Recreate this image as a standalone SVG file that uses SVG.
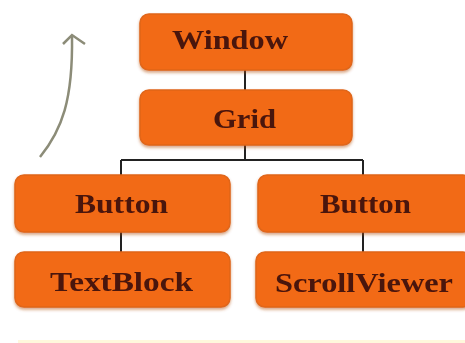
<svg xmlns="http://www.w3.org/2000/svg" width="465" height="343" viewBox="0 0 465 343">
<defs>
<style>
.box{fill:#F26A12;stroke:#E0661A;stroke-width:1.5}
.lbl{font-family:"Liberation Serif","Times New Roman",serif;font-weight:bold;font-size:27px;fill:#4A1208}
.ln{stroke:#222;stroke-width:2;fill:none}
</style>
<filter id="sh" x="-10%" y="-20%" width="120%" height="150%">
<feGaussianBlur in="SourceAlpha" stdDeviation="1.5"/>
<feOffset dx="0" dy="2" result="b"/>
<feFlood flood-color="#B04A10" flood-opacity="0.5"/>
<feComposite in2="b" operator="in"/>
<feMerge><feMergeNode/><feMergeNode in="SourceGraphic"/></feMerge>
</filter>
</defs>
<rect width="465" height="343" fill="#FFFFFF"/>
<rect x="18" y="340" width="447" height="3" fill="#FFF8DC"/>
<g id="connectors">
<path class="ln" d="M245 70V90"/>
<path class="ln" d="M245 145V160"/>
<path class="ln" d="M121 160H363"/>
<path class="ln" d="M121 160V175"/>
<path class="ln" d="M363 160V175"/>
<path class="ln" d="M121 232V252"/>
<path class="ln" d="M363 232V252"/>
<path d="M40 157C62 130 73 100 72 36" stroke="#8C8C78" stroke-width="2.5" fill="none"/>
<path d="M63 44L72 35L85 44" stroke="#8C8C78" stroke-width="2.5" fill="none"/>
</g>
<g id="window" filter="url(#sh)">
<rect class="box" x="140" y="14" width="212" height="56" rx="9"/>
<text class="lbl" x="172" y="49" textLength="116" lengthAdjust="spacingAndGlyphs">Window</text>
</g>
<g id="grid" filter="url(#sh)">
<rect class="box" x="140" y="90" width="212" height="55" rx="9"/>
<text class="lbl" x="213" y="128" textLength="63" lengthAdjust="spacingAndGlyphs">Grid</text>
</g>
<g id="button1" filter="url(#sh)">
<rect class="box" x="15" y="175" width="215" height="57" rx="9"/>
<text class="lbl" x="75" y="213" textLength="93" lengthAdjust="spacingAndGlyphs">Button</text>
</g>
<g id="button2" filter="url(#sh)">
<rect class="box" x="258" y="175" width="214" height="57" rx="9"/>
<text class="lbl" x="320" y="213" textLength="91" lengthAdjust="spacingAndGlyphs">Button</text>
</g>
<g id="textblock" filter="url(#sh)">
<rect class="box" x="15" y="252" width="215" height="55" rx="9"/>
<text class="lbl" x="50" y="291" textLength="143" lengthAdjust="spacingAndGlyphs">TextBlock</text>
</g>
<g id="scrollviewer" filter="url(#sh)">
<rect class="box" x="256" y="252" width="216" height="55" rx="9"/>
<text class="lbl" x="275" y="292" textLength="178" lengthAdjust="spacingAndGlyphs">ScrollViewer</text>
</g>
</svg>
